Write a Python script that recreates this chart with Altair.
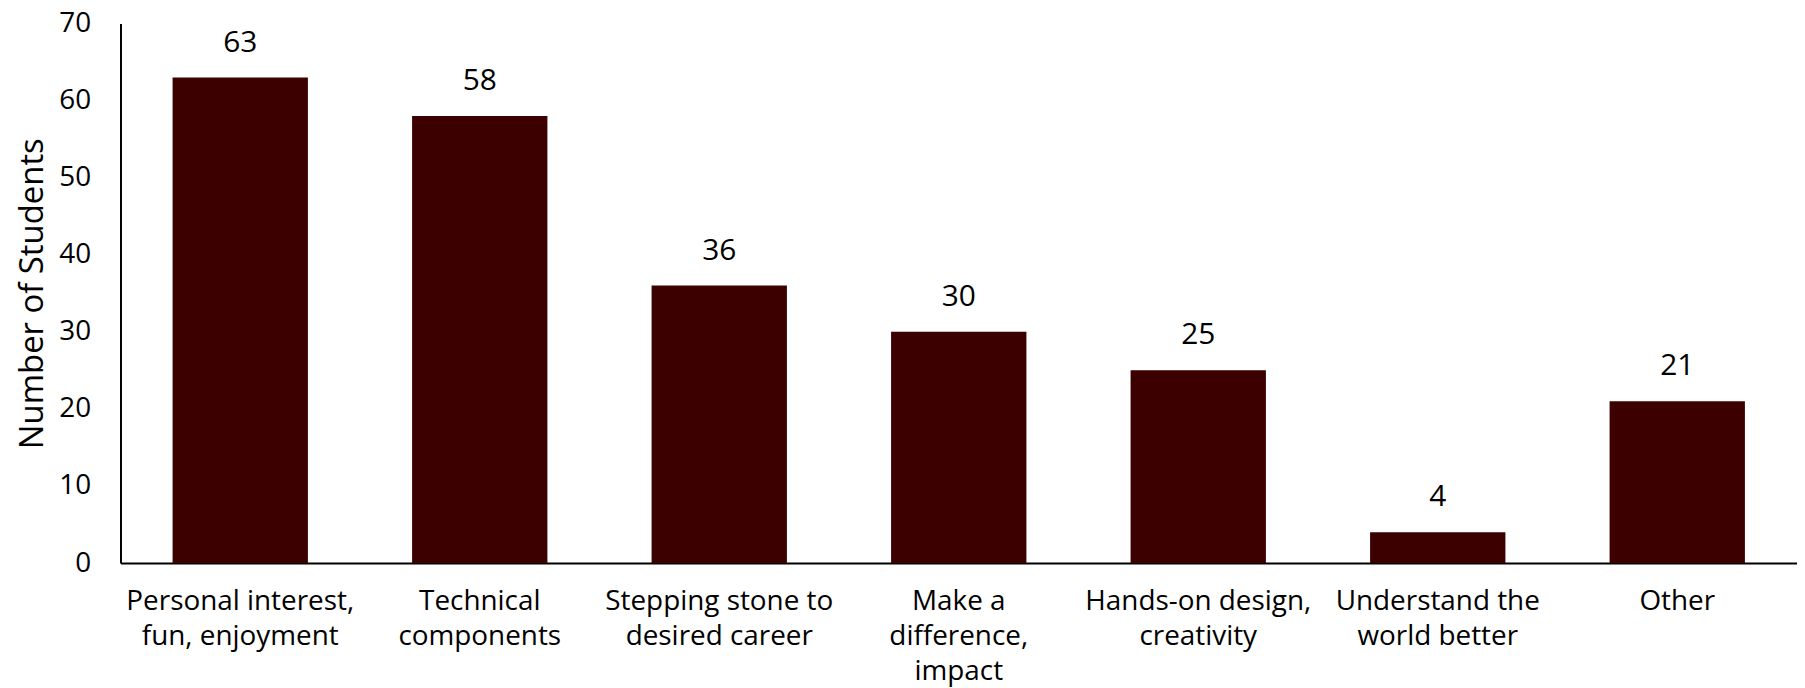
import altair as alt
import pandas as pd

categories = [
    "Personal interest,\nfun, enjoyment",
    "Technical\ncomponents",
    "Stepping stone to\ndesired career",
    "Make a\ndifference,\nimpact",
    "Hands-on design,\ncreativity",
    "Understand the\nworld better",
    "Other",
]
counts = [63, 58, 36, 30, 25, 4, 21]
y_ticks = [0, 10, 20, 30, 40, 50, 60, 70]

df = pd.DataFrame({"category": categories, "count": counts})

FONT = "Open Sans"
BAR = "#3c0000"

x = alt.X(
    "category:N",
    sort=categories,
    title=None,
    scale=alt.Scale(paddingInner=0.435, paddingOuter=0.2175),
    axis=alt.Axis(
        labelAngle=0,
        labelExpr="split(datum.label, '\\n')",
        labelFont=FONT,
        labelFontSize=28,
        labelColor="black",
        labelLineHeight=35,
        labelPadding=25,
        labelBaseline="top",
        ticks=False,
        domainColor="black",
        domainWidth=2,
        labelLimit=400,
    ),
)
y = alt.Y(
    "count:Q",
    title="Number of Students",
    scale=alt.Scale(domain=[0, 70]),
    axis=alt.Axis(
        values=y_ticks,
        grid=False,
        ticks=False,
        labelFont=FONT,
        labelFontSize=28,
        labelColor="black",
        labelPadding=30,
        titleFont=FONT,
        titleFontSize=33,
        titleFontWeight="normal",
        titleColor="black",
        titlePadding=9,
        domainColor="black",
        domainWidth=2,
    ),
)

bars = alt.Chart(df).mark_bar(color=BAR).encode(x=x, y=y)
text = alt.Chart(df).mark_text(
    baseline="alphabetic", dy=-26, font=FONT, fontSize=30, color="black"
).encode(x=x, y=y, text="count:Q")

chart = (
    (bars + text)
    .properties(
        width=1684,
        height=542,
        autosize=alt.AutoSizeParams(type="none"),
        padding={"left": 113, "top": 14, "right": 0, "bottom": 124},
    )
    .configure_view(stroke=None)
)

chart.save("out.html", embed_options={"renderer": "svg", "actions": False})
